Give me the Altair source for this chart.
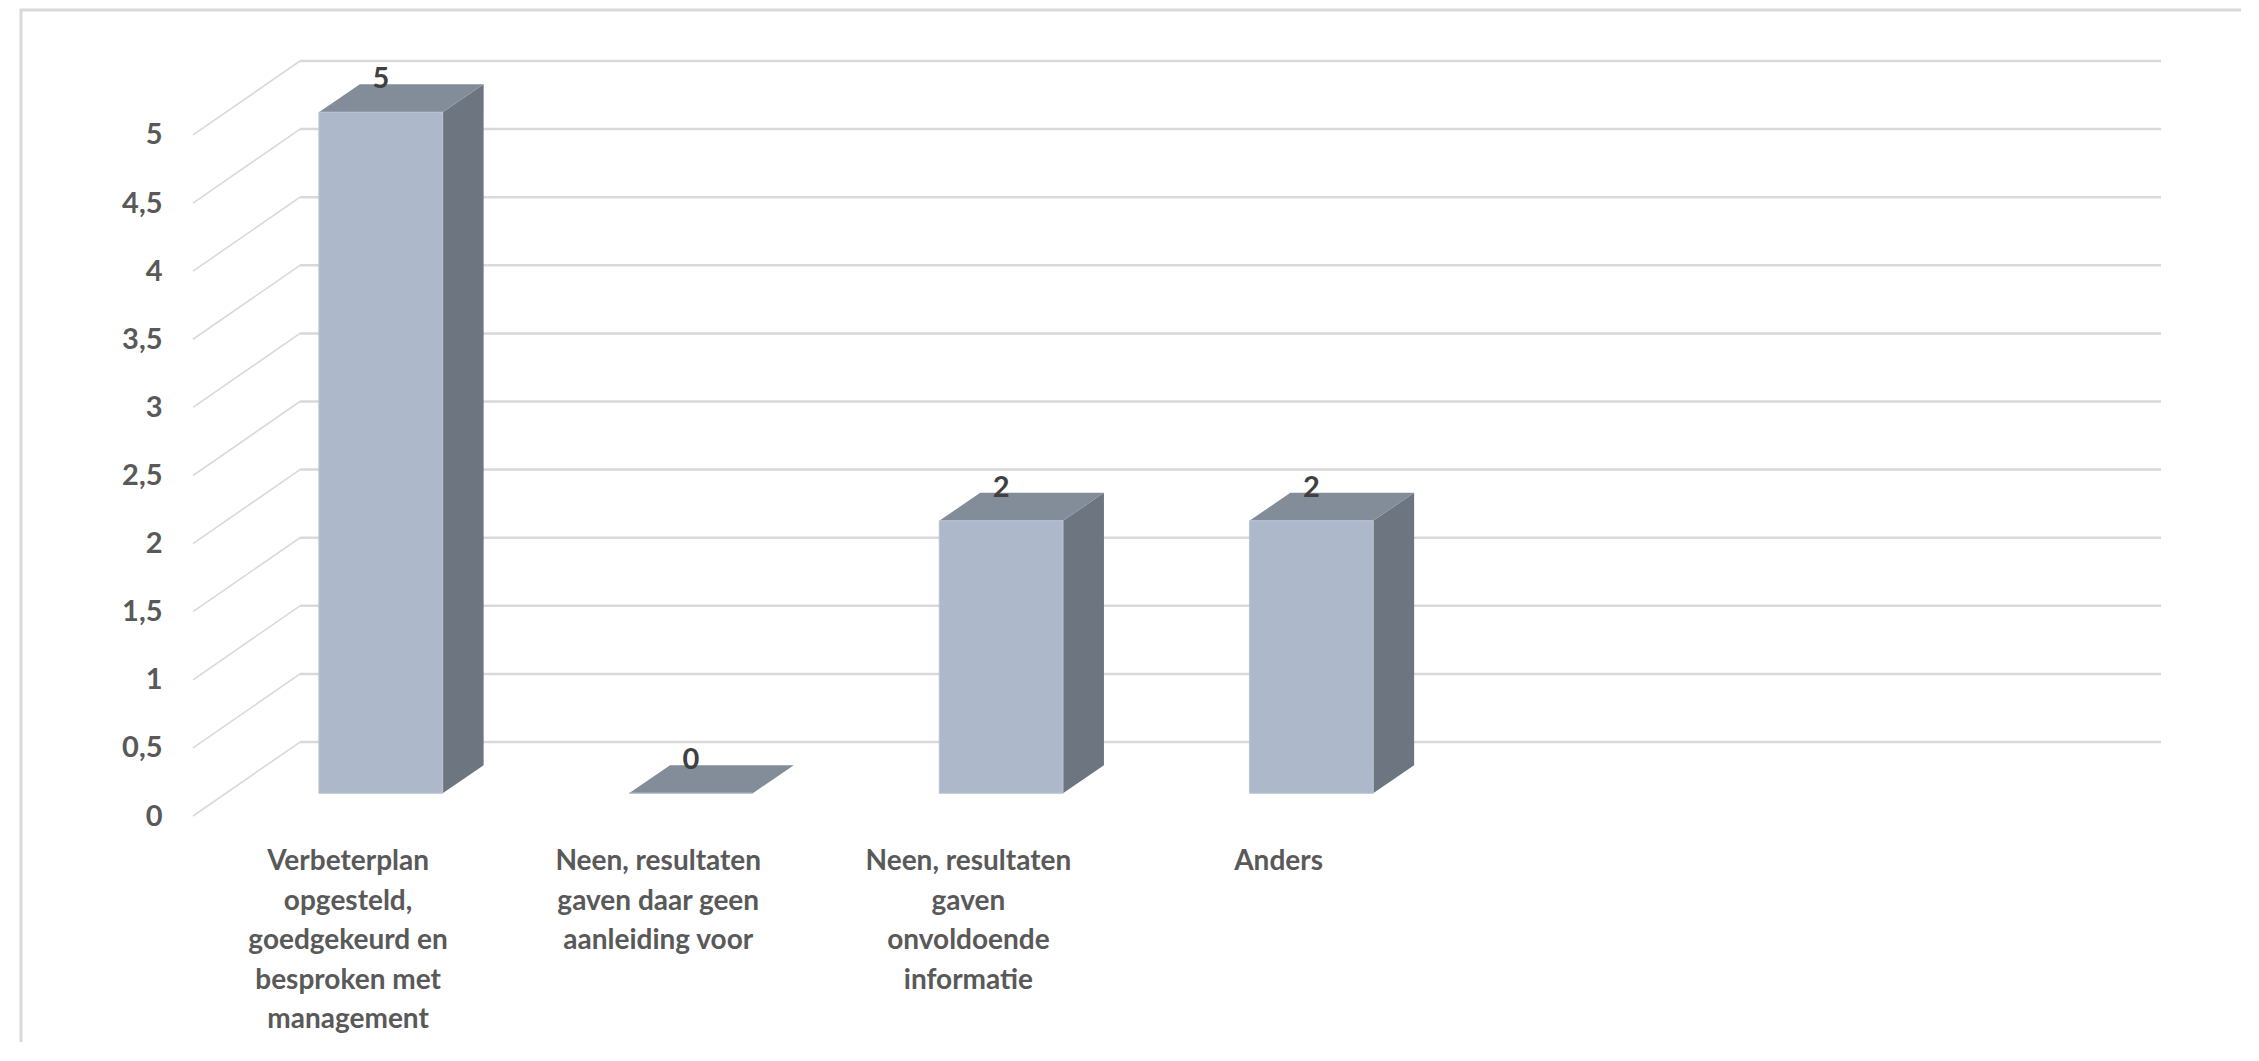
import altair as alt
import pandas as pd

# ---- data ----
categories = [
    "Verbeterplan\nopgesteld,\ngoedgekeurd en\nbesproken met\nmanagement",
    "Neen, resultaten\ngaven daar geen\naanleiding voor",
    "Neen, resultaten\ngaven\nonvoldoende\ninformatie",
    "Anders",
]
values = [5, 0, 2, 2]
n_slots = 6  # category slots on the axis (last two empty)
tick_values = [0, 0.5, 1, 1.5, 2, 2.5, 3, 3.5, 4, 4.5, 5]

# ---- 3D-look style constants (in axis units) ----
DEPTH_X, DEPTH_Y = 0.345, 0.543      # back wall offset
BAR_L, BAR_R = 0.406, 0.805          # front face extent inside a slot
BAR_BASE = 0.167                     # front face base (depth position)
BAR_DX, BAR_DY = 0.132, 0.206        # bar depth

FONT = "Lato"
GRID = "#d9d9d9"

x_scale = alt.Scale(domain=[0, n_slots + DEPTH_X], nice=False, zero=False)
y_scale = alt.Scale(domain=[0, max(tick_values) + DEPTH_Y], nice=False, zero=False)
y_axis = alt.Axis(
    values=tick_values, labelExpr="replace(toString(datum.value), '.', ',')",
    grid=False, domain=False, ticks=False, labelPadding=31,
    labelFont=FONT, labelFontSize=29, labelFontWeight="bold", labelColor="#595959",
    title=None)


def X(field):
    return alt.X(field, scale=x_scale, axis=None)


def Y(field):
    return alt.Y(field, scale=y_scale, axis=y_axis)


# gridlines on back wall + diagonals to front
grid_df = pd.DataFrame({"v": tick_values})
back = alt.Chart(grid_df).transform_calculate(
    x0=str(DEPTH_X), x1=str(n_slots + DEPTH_X), yb=f"datum.v + {DEPTH_Y}"
).mark_rule(color=GRID, strokeWidth=2.5).encode(
    x=X("x0:Q"), x2="x1:Q", y=Y("yb:Q"),
)
diag = alt.Chart(grid_df).transform_calculate(
    x0="0", x1=str(DEPTH_X), yb=f"datum.v + {DEPTH_Y}"
).mark_rule(color=GRID, strokeWidth=1.6).encode(
    x=X("x0:Q"), x2="x1:Q", y=Y("v:Q"), y2="yb:Q",
)

bars = pd.DataFrame({"i": range(len(values)), "value": values, "cat": categories})

front = alt.Chart(bars).transform_calculate(
    xl=f"datum.i + {BAR_L}", xr=f"datum.i + {BAR_R}",
    yb=str(BAR_BASE), yt=f"datum.value + {BAR_BASE}",
).mark_rect(color="#adb9ca", stroke="#b9c3d2", strokeWidth=1).encode(
    x=X("xl:Q"), x2="xr:Q", y=Y("yb:Q"), y2="yt:Q",
)

# side and top faces: two corner rows per bar
side_rows, top_rows = [], []
for i, v in enumerate(values):
    side_rows.append({"i": i, "x": i + BAR_R, "y": BAR_BASE, "y2": v + BAR_BASE})
    side_rows.append({"i": i, "x": i + BAR_R + BAR_DX, "y": BAR_BASE + BAR_DY, "y2": v + BAR_BASE + BAR_DY})
    top_rows.append({"i": i, "y": v + BAR_BASE, "x": i + BAR_L, "x2": i + BAR_R})
    top_rows.append({"i": i, "y": v + BAR_BASE + BAR_DY, "x": i + BAR_L + BAR_DX, "x2": i + BAR_R + BAR_DX})

side = alt.Chart(pd.DataFrame(side_rows)).mark_area(color="#6d7581").encode(
    x=X("x:Q"), y=Y("y:Q"), y2="y2:Q", detail="i:N",
)
top = alt.Chart(pd.DataFrame(top_rows)).mark_area(color="#838d99", orient="horizontal").encode(
    y=Y("y:Q"), x=X("x:Q"), x2="x2:Q", detail="i:N",
)

value_labels = alt.Chart(bars).transform_calculate(
    xc=f"datum.i + {(BAR_L + BAR_R) / 2}", yt=f"datum.value + {BAR_BASE + BAR_DY}",
).mark_text(font=FONT, fontSize=29, fontWeight="bold", color="#404040",
            baseline="alphabetic", dy=4).encode(
    x=X("xc:Q"), y=Y("yt:Q"),
    text=alt.Text("value:Q", format="d"),
)

cat_labels = alt.Chart(bars).transform_calculate(
    xc="datum.i + 0.5"
).mark_text(font=FONT, fontSize=28, fontWeight="bold", color="#595959",
            baseline="alphabetic", align="center", lineBreak="\n", lineHeight=39.6).encode(
    x=X("xc:Q"),
    y=alt.value(809),
    text="cat:N",
)

border = alt.Chart(pd.DataFrame({"k": [0]})).mark_rect(
    fill=None, stroke=GRID, strokeWidth=3
).encode(
    x=alt.value(-172), x2=alt.value(2200),
    y=alt.value(-51), y2=alt.value(1100),
)

chart = alt.layer(back, diag, side, top, front, value_labels, cat_labels, border).properties(
    width=1968, height=755,
    autosize=alt.AutoSizeParams(type="none"),
    padding={"left": 185, "top": 53, "right": 80, "bottom": 226},
    background="white",
).configure_view(stroke=None)

chart.save("out.html", embed_options={"renderer": "svg", "actions": False})
